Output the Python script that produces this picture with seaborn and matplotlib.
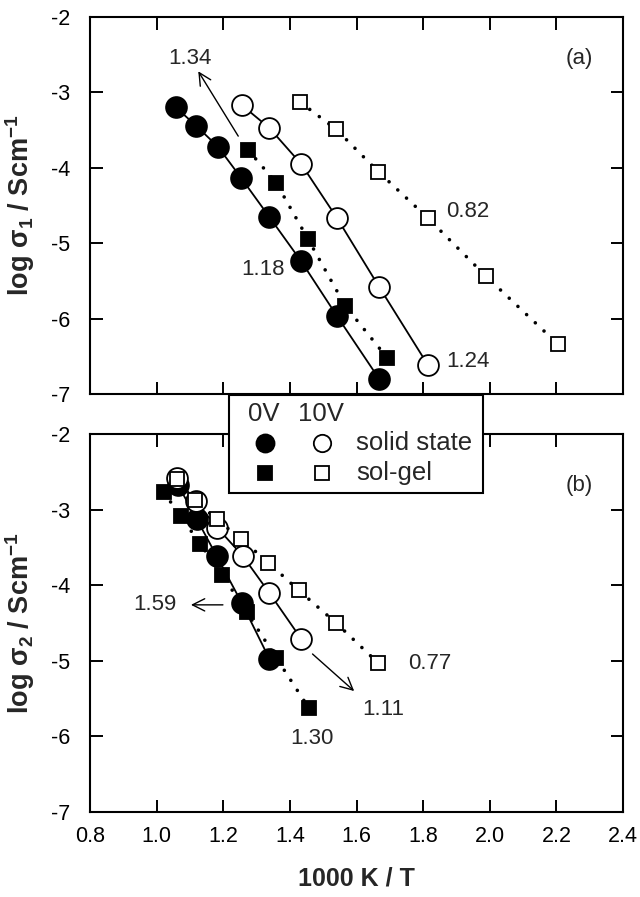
import matplotlib
matplotlib.use("Agg")
import matplotlib.pyplot as plt
import seaborn as sns
from matplotlib.patches import Rectangle
from matplotlib.lines import Line2D

sns.set_theme(style="ticks")
plt.rcParams["font.family"] = ["Liberation Sans", "DejaVu Sans"]
plt.rcParams["mathtext.fontset"] = "custom"
plt.rcParams["mathtext.rm"] = "Liberation Sans"
plt.rcParams["mathtext.it"] = "Liberation Sans:italic"
plt.rcParams["mathtext.bf"] = "Liberation Sans:bold"

# ---------------- data (panel a) ----------------
a_ss0_x = [1.058, 1.118, 1.184, 1.253, 1.338, 1.434, 1.542, 1.668]
a_ss0_y = [-3.20, -3.44, -3.72, -4.13, -4.65, -5.24, -5.97, -6.80]
a_ss10_x = [1.256, 1.338, 1.434, 1.542, 1.668, 1.815]
a_ss10_y = [-3.17, -3.47, -3.95, -4.67, -5.58, -6.62]
a_sg0_x = [1.274, 1.359, 1.455, 1.566, 1.692]
a_sg0_y = [-3.76, -4.20, -4.95, -5.83, -6.52]
a_sg10_x = [1.431, 1.539, 1.665, 1.815, 1.989, 2.205]
a_sg10_y = [-3.13, -3.49, -4.05, -4.67, -5.44, -6.34]

# ---------------- data (panel b) ----------------
b_ss0_x = [1.065, 1.121, 1.181, 1.255, 1.338]
b_ss0_y = [-2.68, -3.13, -3.62, -4.23, -4.97]
b_ss10_x = [1.060, 1.118, 1.182, 1.258, 1.338, 1.434]
b_ss10_y = [-2.58, -2.89, -3.24, -3.61, -4.10, -4.71]
b_sg0_x = [1.021, 1.073, 1.130, 1.196, 1.271, 1.359, 1.456]
b_sg0_y = [-2.77, -3.09, -3.45, -3.86, -4.36, -4.96, -5.62]
b_sg10_x = [1.060, 1.115, 1.180, 1.254, 1.335, 1.427, 1.539, 1.665]
b_sg10_y = [-2.59, -2.87, -3.13, -3.39, -3.70, -4.07, -4.50, -5.03]

x_ticks = [0.8, 1.0, 1.2, 1.4, 1.6, 1.8, 2.0, 2.2, 2.4]
y_ticks = [-7, -6, -5, -4, -3, -2]

# slope annotations: (text, text_x, text_y, arrow_tail, arrow_head)
a_notes = [("1.34", 1.10, -2.55, (1.245, -3.58), (1.125, -2.72)),
           ("1.18", 1.32, -5.35, None, None),
           ("0.82", 1.934, -4.58, None, None),
           ("1.24", 1.936, -6.57, None, None)]
b_notes = [("1.59", 0.995, -4.26, (1.199, -4.26), (1.103, -4.26)),
           ("1.11", 1.681, -5.65, (1.468, -4.91), (1.593, -5.40)),
           ("1.30", 1.466, -6.03, None, None),
           ("0.77", 1.82, -5.03, None, None)]

fig = plt.figure(figsize=(6.4, 8.97), dpi=100)
ax_a = fig.add_axes([90 / 640, 1 - 394 / 897, 533 / 640, 377 / 897])
ax_b = fig.add_axes([90 / 640, 1 - 812 / 897, 533 / 640, 378 / 897])

DOT = dict(linestyle=(0, (0.01, 3.3)), linewidth=2.6, dash_capstyle="round")
SOLID = dict(linestyle="-", linewidth=1.3)


def series(ax, x, y, marker, filled, line, ms, z):
    sns.lineplot(x=x, y=y, ax=ax, sort=False, estimator=None, color="black",
                 marker=marker, markersize=ms,
                 markerfacecolor="black" if filled else "white",
                 markeredgecolor="black", markeredgewidth=1.3,
                 zorder=z, **line)


def panel(ax, d, notes, label, label_y, ylab, show_x):
    ss0x, ss0y, ss10x, ss10y, sg0x, sg0y, sg10x, sg10y = d
    series(ax, ss0x, ss0y, "o", True, SOLID, 15, 3)
    series(ax, ss10x, ss10y, "o", False, SOLID, 15, 4)
    series(ax, sg0x, sg0y, "s", True, DOT, 10.5, 5)
    series(ax, sg10x, sg10y, "s", False, DOT, 10.5, 6)
    ax.set_xlim(0.8, 2.4)
    ax.set_ylim(-7, -2)
    ax.set_xticks(x_ticks)
    ax.set_yticks(y_ticks)
    ax.set_yticklabels([f"{v:d}" for v in y_ticks])
    ax.tick_params(direction="in", length=9, width=1.4, top=True, right=True,
                   labelsize=15.5, colors="black")
    ax.tick_params(axis="y", pad=14)
    ax.tick_params(axis="x", pad=10)
    if show_x:
        ax.set_xticklabels([f"{v:.1f}" for v in x_ticks])
        ax.set_xlabel("1000 K / T", fontsize=18, fontweight="bold", labelpad=14)
    else:
        ax.set_xticklabels([])
    ax.set_ylabel(ylab, fontsize=19.5)
    ax.yaxis.set_label_coords(-0.10, 0.5)
    for s in ax.spines.values():
        s.set_linewidth(1.5)
        s.set_color("black")
    ax.text(2.27, label_y, label, fontsize=16, ha="center", va="center")
    for txt, tx, ty, tail, head in notes:
        ax.text(tx, ty, txt, fontsize=16, ha="center", va="center")
        if tail is not None:
            ax.annotate("", xy=head, xytext=tail,
                        arrowprops=dict(arrowstyle="->", lw=1.0, color="black",
                                        mutation_scale=22, shrinkA=0, shrinkB=0))


panel(ax_a, (a_ss0_x, a_ss0_y, a_ss10_x, a_ss10_y, a_sg0_x, a_sg0_y, a_sg10_x, a_sg10_y),
      a_notes, "(a)", -2.55, r"$\mathbf{log\ \sigma_1\ /\ Scm^{-1}}$", False)
panel(ax_b, (b_ss0_x, b_ss0_y, b_ss10_x, b_ss10_y, b_sg0_x, b_sg0_y, b_sg10_x, b_sg10_y),
      b_notes, "(b)", -2.68, r"$\mathbf{log\ \sigma_2\ /\ Scm^{-1}}$", True)

# ---------------- legend box (figure coordinates) ----------------
W, H = 640.0, 897.0
def fx(px):
    return px / W
def fy(py):
    return 1 - py / H

fig.add_artist(Rectangle((fx(229), fy(493)), fx(483) - fx(229), fy(395) - fy(493),
                         transform=fig.transFigure, facecolor="white",
                         edgecolor="black", linewidth=1.5, zorder=10))
fig.text(fx(264), fy(414), "0V", fontsize=18.5, ha="center", va="center", zorder=11)
fig.text(fx(321), fy(414), "10V", fontsize=18.5, ha="center", va="center", zorder=11)
fig.text(fx(356), fy(443), "solid state", fontsize=18.5, ha="left", va="center", zorder=11)
fig.text(fx(356), fy(473), "sol-gel", fontsize=18.5, ha="left", va="center", zorder=11)
for (px, py, m, fc, ms) in [(265, 443, "o", "black", 13), (322, 443, "o", "white", 12.5),
                            (265, 473, "s", "black", 10.5), (322, 473, "s", "white", 10)]:
    fig.add_artist(Line2D([fx(px)], [fy(py)], transform=fig.transFigure, marker=m,
                          markersize=ms, markerfacecolor=fc, markeredgecolor="black",
                          markeredgewidth=1.3, linestyle="none", zorder=11))

fig.savefig("out.png", dpi=100)
